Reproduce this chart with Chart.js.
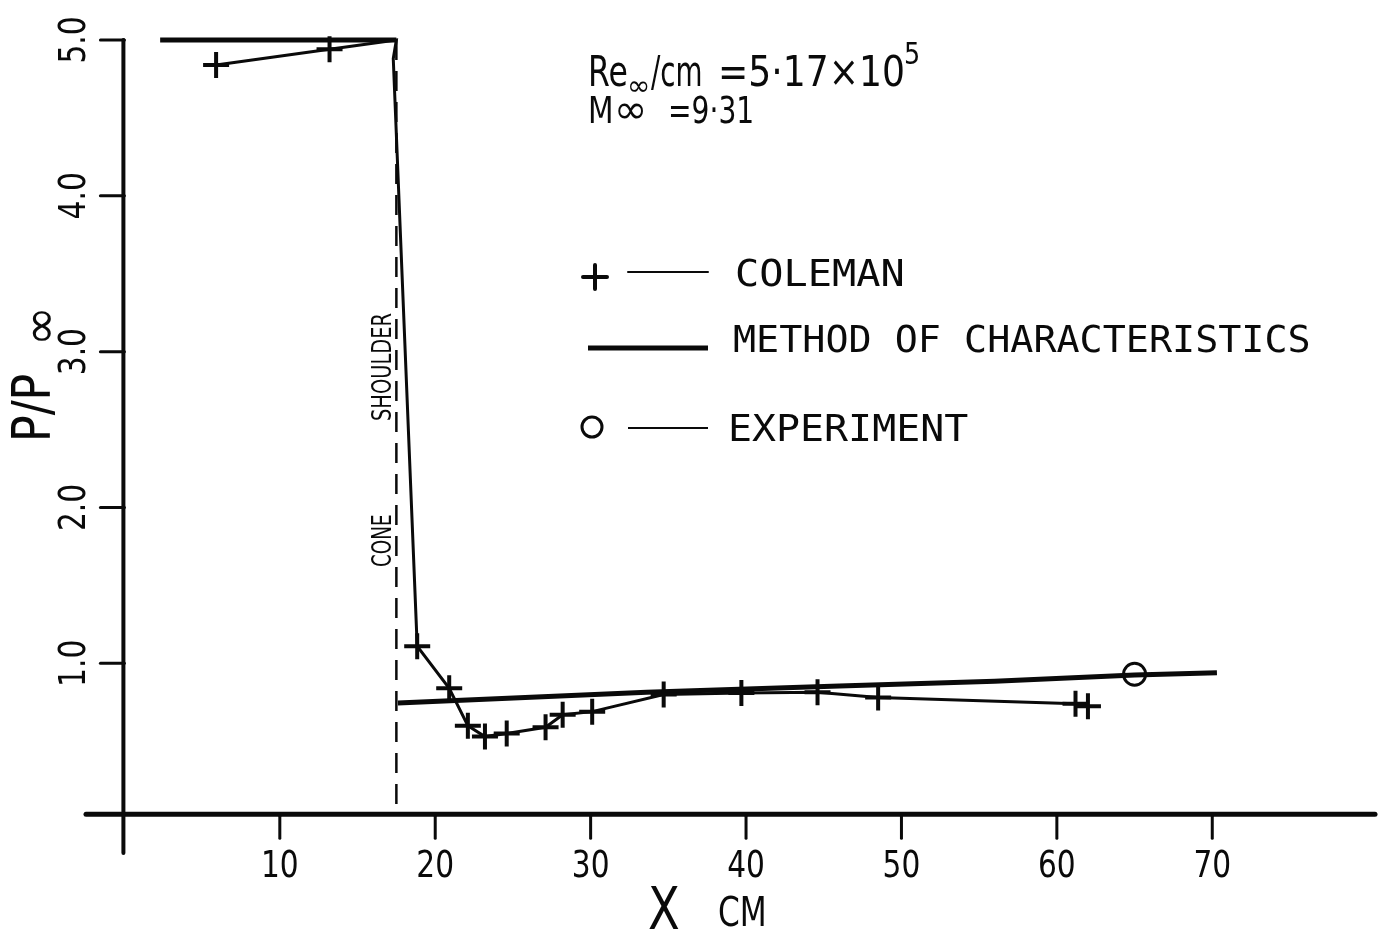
<!DOCTYPE html>
<html>
<head>
<meta charset="utf-8">
<script src="https://cdn.jsdelivr.net/npm/chart.js@4.4.1/dist/chart.umd.min.js"></script>
<style>
  html, body { margin: 0; padding: 0; background: #fff; }
  #wrap { width: 1388px; height: 935px; }
</style>
</head>
<body>
<div id="wrap"><canvas id="chart"></canvas></div>
<script>
// Coleman (+ markers), x in cm, P/Pinf
const colemanX    = [5.9, 13.2, 17.5, 17.3, 18.84, 20.9, 22.1, 23.2, 24.6, 27.1, 28.2, 30.1, 34.7, 39.7, 44.6, 48.5, 61.2, 62.0]
const colemanY    = [4.84, 4.94, 5.0, 4.88, 1.11, 0.84, 0.60, 0.53, 0.55, 0.59, 0.67, 0.69, 0.80, 0.81, 0.815, 0.78, 0.74, 0.725]
const colemanMark = [1, 1, 0, 0, 1, 1, 1, 1, 1, 1, 1, 1, 1, 1, 1, 1, 1, 1]

// Method of characteristics (null = break at the shoulder)
const mocX = [2.3, 17.5, 17.5, 17.6, 33.6, 46.0, 56.0, 65.0, 70.3]
const mocY = [5.0, 5.0, null, 0.745, 0.815, 0.855, 0.885, 0.925, 0.94]

// Experiment (circle)
const expX = [65.0]
const expY = [0.93]

// Cone shoulder station
const shoulderX = [17.5, 17.5]
const shoulderY = [5.0, 0.03]

const xTicks = [10, 20, 30, 40, 50, 60, 70]
const yTicks = [1.0, 2.0, 3.0, 4.0, 5.0]

const ink  = "#0a0a0a"
const FONT = "'DejaVu Sans', sans-serif"
const MONO = "'DejaVu Sans Mono', monospace"

const zip = (xs, ys) => xs.map((v, i) => ({ x: v, y: ys[i] }))

function txt(ctx, s, px, py, size, opts = {}) {
  const { sx = 0.78, rot = 0, align = "left", family = FONT, baseline = "alphabetic" } = opts
  ctx.save()
  ctx.translate(px, py)
  ctx.rotate(rot)
  ctx.scale(sx, 1)
  ctx.font = `${size}px ${family}`
  ctx.textAlign = align
  ctx.textBaseline = baseline
  ctx.fillStyle = ink
  ctx.fillText(s, 0, 0)
  ctx.restore()
}

function seg(ctx, x1, y1, x2, y2) {
  ctx.beginPath()
  ctx.moveTo(x1, y1)
  ctx.lineTo(x2, y2)
  ctx.stroke()
}

const paperAxes = {
  id: "paperAxes",
  afterDatasetsDraw(chart) {
    const { ctx, chartArea, scales: { x, y } } = chart
    const x0 = x.getPixelForValue(0)
    const y0 = y.getPixelForValue(0) - 5   // hand-drawn axis sits a little high
    const up = -Math.PI / 2

    ctx.save()
    ctx.strokeStyle = ink
    ctx.lineCap = "round"

    // axes
    ctx.lineWidth = 5
    seg(ctx, chartArea.left + 2, y0, chartArea.right - 2, y0)
    ctx.lineWidth = 4
    seg(ctx, x0 - 1, y.getPixelForValue(5), x0 - 1, chartArea.bottom - 2)

    // x ticks + labels
    ctx.lineWidth = 3
    xTicks.forEach(v => {
      const px = x.getPixelForValue(v)
      seg(ctx, px, y0 + 2, px, y0 + 24)
      txt(ctx, String(v), px, y0 + 63, 38, { align: "center" })
    })

    // y ticks + labels (rotated)
    yTicks.forEach(v => {
      const py = y.getPixelForValue(v)
      seg(ctx, x0 - 24, py, x0, py)
      txt(ctx, v.toFixed(1), x0 - 39, py, 38, { align: "center", rot: up })
    })

    // axis titles
    txt(ctx, "P/P", 50, 442, 54, { rot: up, sx: 0.82 })
    txt(ctx, "\u221E", 56, 346, 48, { rot: up, sx: 1.0 })
    txt(ctx, "X", 648, 929, 58, { sx: 0.8 })
    txt(ctx, "CM", 718, 926, 40, { sx: 0.78 })

    // shoulder label
    txt(ctx, "CONE", 391, 567, 27, { rot: up, sx: 0.68 })
    txt(ctx, "SHOULDER", 391, 421, 27, { rot: up, sx: 0.72 })

    // flow conditions
    txt(ctx, "Re", 588, 86, 42, { sx: 0.75 })
    txt(ctx, "\u221E", 627, 95, 28, { sx: 1.0 })
    txt(ctx, "/cm", 651, 86, 42, { sx: 0.66 })
    txt(ctx, "=5\u00B717\u00D710", 718, 86, 42, { sx: 0.86 })
    txt(ctx, "5", 904, 64, 30, { sx: 0.85 })
    txt(ctx, "M", 588, 123, 37, { sx: 0.8 })
    txt(ctx, "\u221E", 614, 123, 40, { sx: 1.0 })
    txt(ctx, "=9\u00B731", 668, 123, 37, { sx: 0.76 })

    // legend
    const drawPoint = Chart.helpers.drawPoint
    ctx.lineWidth = 4
    drawPoint(ctx, { pointStyle: "cross", radius: 12, borderWidth: 4, rotation: 0 }, 595, 277)
    ctx.lineWidth = 2
    seg(ctx, 628, 272, 708, 272)
    txt(ctx, "COLEMAN", 735, 286, 38, { family: MONO, sx: 1.06 })

    ctx.lineWidth = 5
    ctx.lineCap = "butt"
    seg(ctx, 588, 348, 708, 348)
    txt(ctx, "METHOD OF CHARACTERISTICS", 733, 352, 38, { family: MONO, sx: 1.01 })

    ctx.lineWidth = 3
    ctx.beginPath()
    ctx.arc(592, 427, 10, 0, Math.PI * 2)
    ctx.stroke()
    ctx.lineWidth = 2
    seg(ctx, 628, 428, 708, 428)
    txt(ctx, "EXPERIMENT", 728, 441, 38, { family: MONO, sx: 1.05 })

    ctx.restore()
  }
}

new Chart(document.getElementById("chart"), {
  type: "line",
  data: {
    datasets: [
      {
        label: "COLEMAN",
        data: zip(colemanX, colemanY),
        borderColor: ink,
        borderWidth: 3,
        pointStyle: "cross",
        pointRadius: colemanMark.map(m => (m ? 13 : 0)),
        pointBorderWidth: 4,
        pointBorderColor: ink,
        tension: 0,
        clip: false
      },
      {
        label: "METHOD OF CHARACTERISTICS",
        data: zip(mocX, mocY),
        borderColor: ink,
        borderWidth: 5,
        pointRadius: 0,
        spanGaps: false,
        tension: 0,
        clip: false
      },
      {
        label: "EXPERIMENT",
        data: zip(expX, expY),
        showLine: false,
        pointStyle: "circle",
        pointRadius: 11,
        pointBorderWidth: 3,
        pointBorderColor: ink,
        pointBackgroundColor: "rgba(0,0,0,0)",
        clip: false
      },
      {
        label: "shoulder",
        data: zip(shoulderX, shoulderY),
        borderColor: ink,
        borderWidth: 2.5,
        borderDash: [20, 11],
        pointRadius: 0,
        tension: 0,
        clip: false
      }
    ]
  },
  options: {
    responsive: true,
    maintainAspectRatio: false,
    animation: false,
    layout: { autoPadding: false, padding: { left: 84, right: 11, top: 40, bottom: 80 } },
    plugins: { legend: { display: false }, tooltip: { enabled: false } },
    scales: {
      x: { type: "linear", min: -2.6, max: 80.6, display: false },
      y: { type: "linear", min: -0.23, max: 5.0, display: false }
    }
  },
  plugins: [paperAxes]
})
</script>
</body>
</html>
